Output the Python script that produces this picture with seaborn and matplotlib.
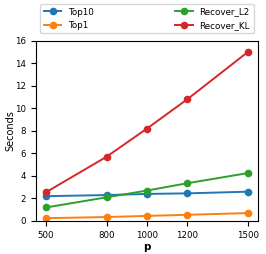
import matplotlib
matplotlib.use("Agg")
import matplotlib.pyplot as plt
import seaborn as sns
import pandas as pd

p_values = [500, 800, 1000, 1200, 1500]
top10 = [2.2, 2.3, 2.4, 2.45, 2.6]
top1 = [0.25, 0.35, 0.45, 0.55, 0.7]
recover_l2 = [1.2, 2.1, 2.7, 3.35, 4.25]
recover_kl = [2.55, 5.7, 8.2, 10.8, 15.0]

series = {"Top10": top10, "Top1": top1, "Recover_L2": recover_l2, "Recover_KL": recover_kl}
rows = []
for name, vals in series.items():
    for p, v in zip(p_values, vals):
        rows.append({"p": p, "seconds": v, "method": name})
df = pd.DataFrame(rows)

plt.rcParams["font.size"] = 6
fig, ax = plt.subplots(figsize=(2.66, 2.54), dpi=100)
colors = ["#1f77b4", "#ff7f0e", "#2ca02c", "#d62728"]
sns.lineplot(data=df, x="p", y="seconds", hue="method", palette=colors,
             marker="o", markersize=5.5, markeredgewidth=0, linewidth=1.4, ax=ax)

ax.set_xticks(p_values)
ax.set_ylim(0, 16)
ax.set_yticks(range(0, 17, 2))
ax.tick_params(labelsize=6.2, length=3.5)
ax.set_xlabel("p", fontweight="bold", fontsize=7.5, labelpad=2)
ax.set_ylabel("Seconds", fontsize=7, labelpad=0)
ax.legend(loc="lower center", bbox_to_anchor=(0.02, 1.04, 0.96, 0.2), ncol=2,
          mode="expand", fontsize=6.3, borderaxespad=0, handlelength=2)

fig.subplots_adjust(left=0.135, right=0.97, top=0.84, bottom=0.13)
fig.savefig("out.png", dpi=100)
